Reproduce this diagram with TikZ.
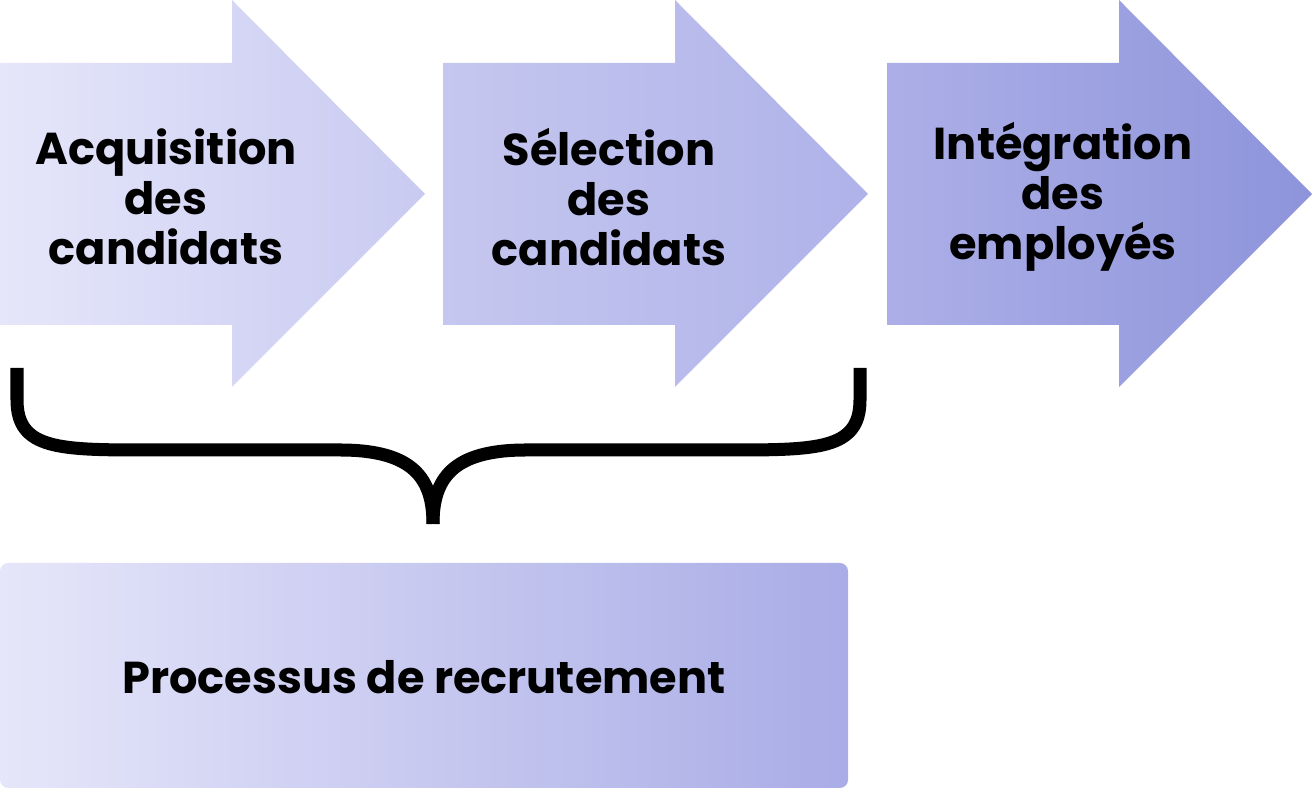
\documentclass[tikz,border=0pt]{standalone}
\usepackage{fontspec}
\setmainfont{Poppins Bold}
\definecolor{cA}{HTML}{E6E6FA}
\definecolor{cB}{HTML}{C8CAF1}
\definecolor{cC}{HTML}{C5C7EF}
\definecolor{cD}{HTML}{AFB2E9}
\definecolor{cE}{HTML}{ACAFE7}
\definecolor{cF}{HTML}{8E94DB}
\definecolor{cG}{HTML}{A9ACE6}
\tikzset{lbl/.style={align=center,font=\fontsize{12.7pt}{14.2pt}\selectfont,text=black}}
\begin{document}
\begin{tikzpicture}[x=0.01cm,y=-0.01cm]
\useasboundingbox (0,0) rectangle (1312,789);
\newcommand\arr[3]{\shade[left color=#2,right color=#3] (#1,63) -- (#1+232,63) -- (#1+232,0) -- (#1+425,194) -- (#1+232,387) -- (#1+232,325) -- (#1,325) -- cycle;}
\arr{0}{cA}{cB}
\arr{443}{cC}{cD}
\arr{887}{cE}{cF}
\shade[left color=cA,right color=cG,rounded corners=2.3pt] (0,563) rectangle (848,788);
\draw[line width=13*0.2845pt] (17,368) -- (17,400) .. controls (17,450) and (60,450) .. (150,450) -- (340,450) .. controls (415,450) and (433,480) .. (433,524);
\draw[line width=13*0.2845pt] (860,368) -- (860,400) .. controls (860,450) and (817,450) .. (727,450) -- (526,450) .. controls (451,450) and (433,480) .. (433,524);
\node[lbl] (a) at (166,197) {Acquisition\\des\\candidats};
\node[lbl] (s) at (609,197) {Sélection\\des\\candidats};
\node[lbl] (i) at (1063,197) {Intégration\\des\\employés};
\node[lbl] (p) at (424,677) {Processus de recrutement};
\end{tikzpicture}
\end{document}
